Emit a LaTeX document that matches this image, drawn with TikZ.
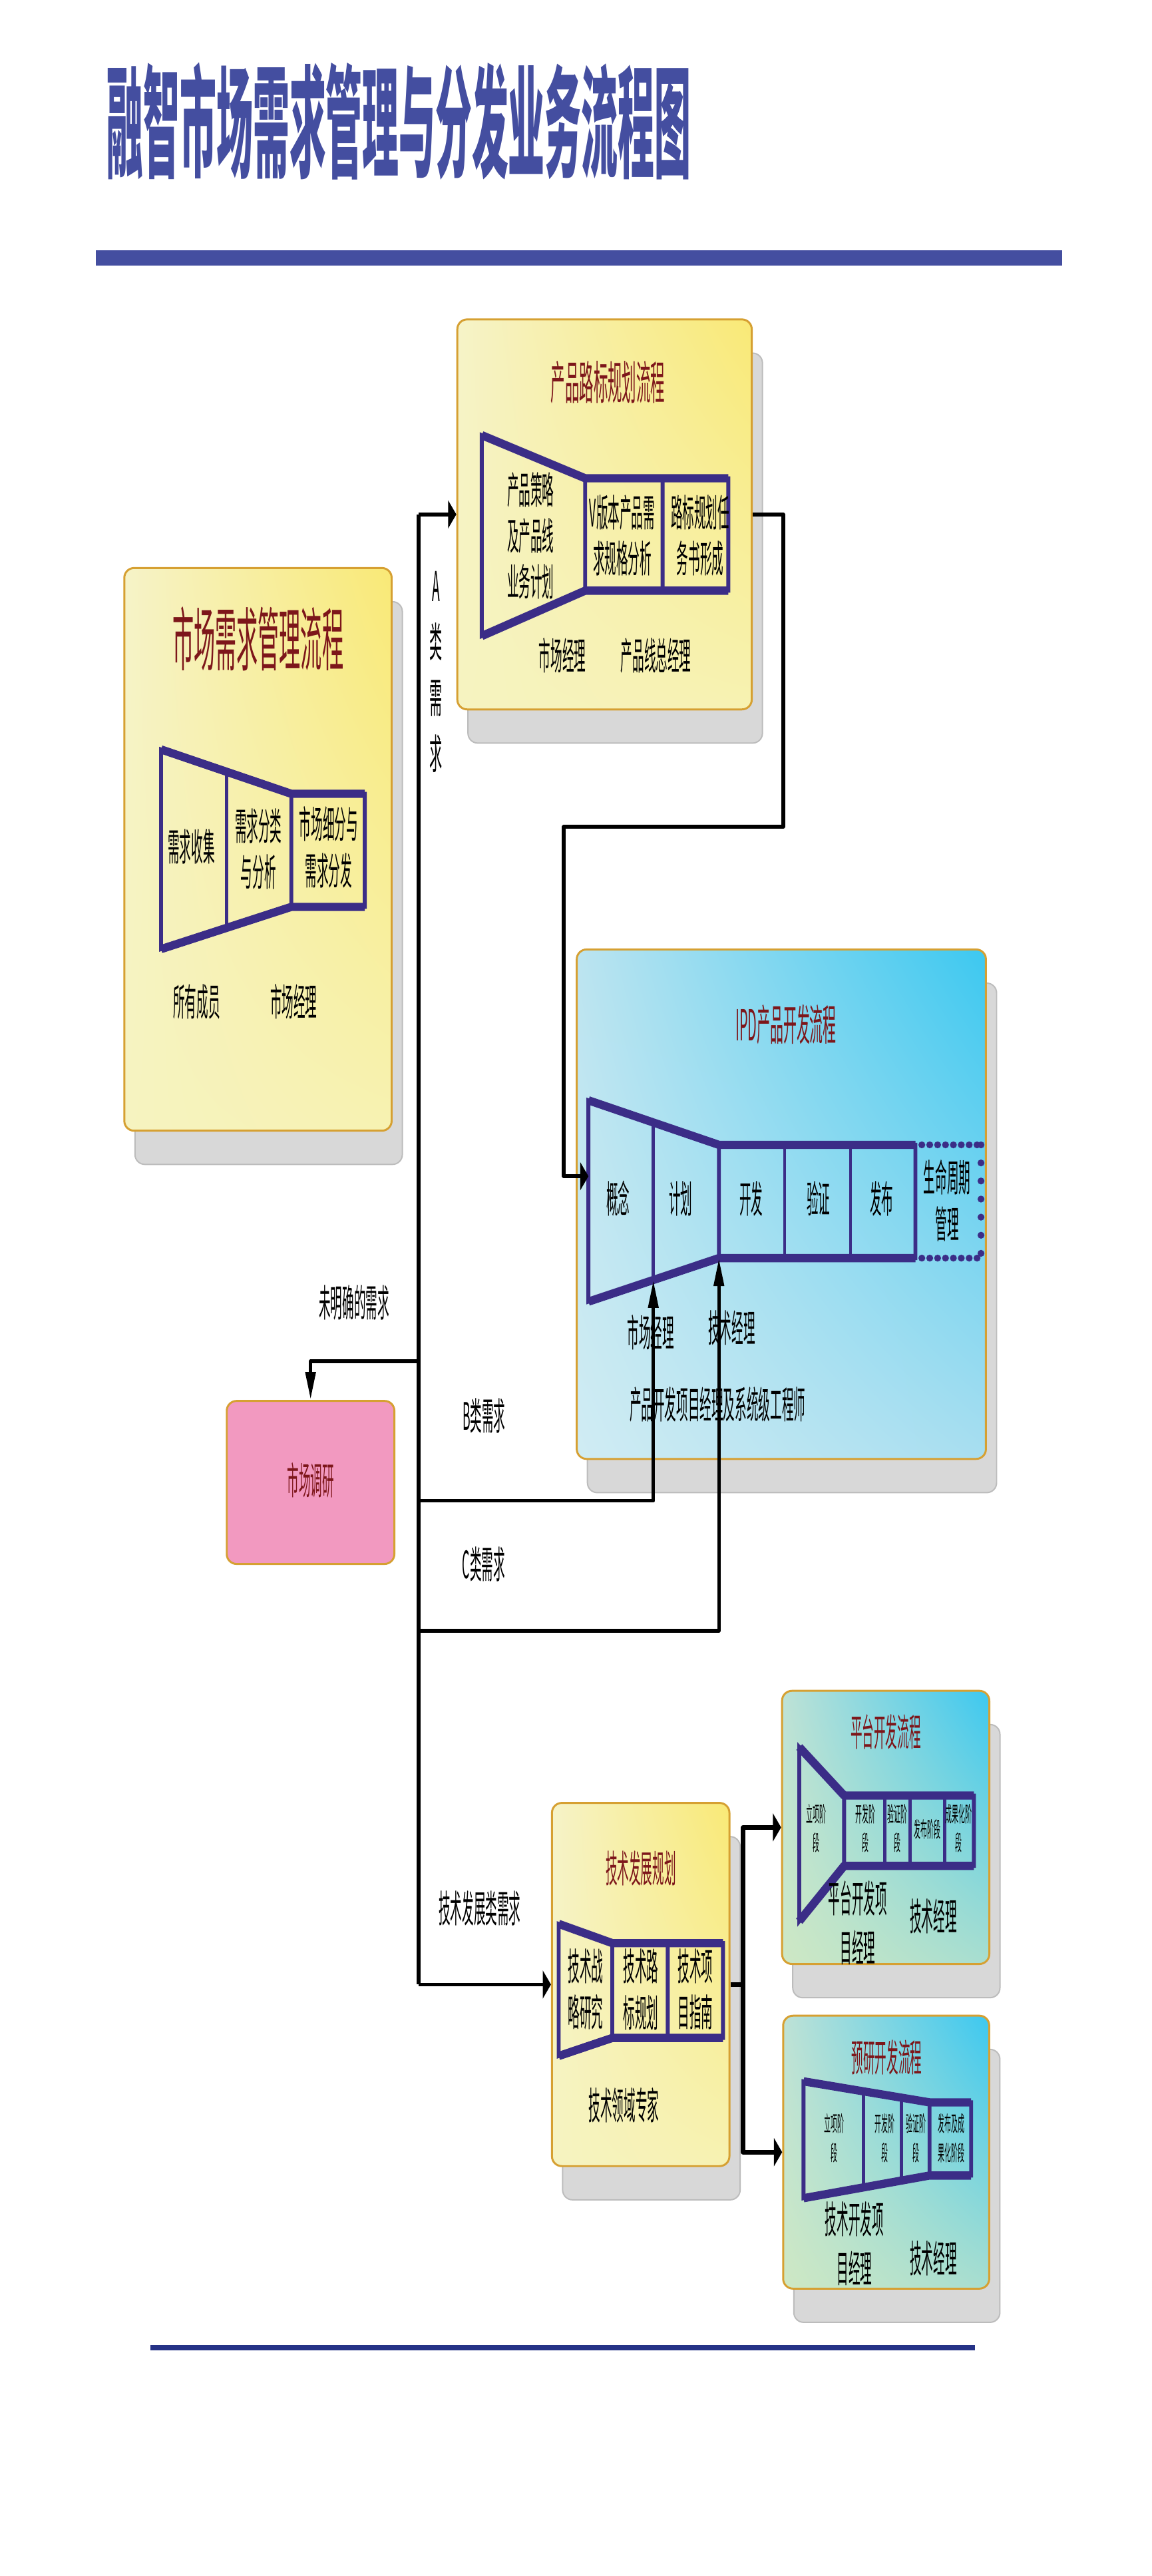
\documentclass[tikz,border=0pt]{standalone}
\usepackage{fontspec}
\newfontfamily\cjk[FakeStretch=0.31]{Noto Sans CJK SC}
\newfontfamily\cjktitle[FakeStretch=0.30]{Noto Sans CJK SC}
\usetikzlibrary{arrows.meta,calc,shadings,shadows,positioning}
\definecolor{ttblue}{RGB}{68,78,160}
\definecolor{navy}{RGB}{37,50,134}
\definecolor{fun}{RGB}{59,45,135}
\definecolor{dred}{RGB}{125,22,26}
\definecolor{bord}{RGB}{214,160,50}
\definecolor{shgray}{RGB}{216,216,216}
\definecolor{shedge}{RGB}{188,188,188}
\definecolor{pinkbox}{RGB}{242,153,192}
\definecolor{yUL}{RGB}{246,243,200}
\definecolor{yUR}{RGB}{249,233,118}
\definecolor{yLL}{RGB}{246,243,192}
\definecolor{yLR}{RGB}{247,242,178}
\definecolor{bUL}{RGB}{188,228,240}
\definecolor{bUR}{RGB}{60,200,240}
\definecolor{bLL}{RGB}{208,236,243}
\definecolor{bLR}{RGB}{168,222,240}
\definecolor{gUL}{RGB}{190,226,214}
\definecolor{gUR}{RGB}{60,200,240}
\definecolor{gLL}{RGB}{206,232,196}
\definecolor{gLR}{RGB}{168,222,208}

\begin{document}
\begin{tikzpicture}[x=1pt,y=-1pt,line join=round,
  panel/.style={draw=bord,line width=1.2pt,rounded corners=6pt,inner sep=0pt,
    drop shadow={shadow xshift=6.5pt,shadow yshift=-20.5pt,fill=shgray,draw=shedge,line width=0.8pt,opacity=1}},
  ypanel/.style={panel,upper left=yUL,upper right=yUR,lower left=yLL,lower right=yLR},
  bpanel/.style={panel,upper left=bUL,upper right=bUR,lower left=bLL,lower right=bLR},
  gpanel/.style={panel,upper left=gUL,upper right=gUR,lower left=gLL,lower right=gLR},
  funnel/.style={draw=fun,line width=2.4pt,line join=miter},
  fedge/.style={draw=fun,line width=5pt},
  fdiv/.style={draw=fun,line width=2pt},
  dotb/.style={draw=fun,line width=4.2pt,line cap=round,dash pattern=on 0pt off 4.8pt},
  conn/.style={draw=black,line width=2.2pt},
  harr/.style={-{Triangle[length=5pt,width=17pt]}},
  varr/.style={-{Triangle[length=17pt,width=6pt]}},
  lab/.style={font=\cjk\fontsize{23}{28}\selectfont,align=center,inner sep=0pt},
  ttl/.style={font=\cjk\fontsize{23}{28}\selectfont,text=dred,inner sep=0pt}]
\useasboundingbox (0,0) rectangle (701,1567.4);
\fill[white] (0,0) rectangle (701,1567.4);

% title and rules
\node[anchor=west,inner sep=0pt,text=ttblue,font=\cjktitle\bfseries\fontsize{74}{80}\selectfont] (title) at (65,73.6) {融智市场需求管理与分发业务流程图};
\fill[ttblue] (58.4,152.3) rectangle (646.5,161.5);
\fill[navy] (91.5,1426.8) rectangle (593.2,1430.2);

% panels
\node[ypanel,minimum width=162.7pt,minimum height=342.4pt] (mkt) at (157,516.8) {};
\node[ypanel,minimum width=179.2pt,minimum height=237.3pt] (road) at (367.9,313) {};
\node[bpanel,minimum width=249pt,minimum height=310pt] (ipd) at (475.5,732.7) {};
\node[ypanel,minimum width=108pt,minimum height=221pt] (tech) at (389.9,1207.5) {};
\node[gpanel,minimum width=126.1pt,minimum height=166.2pt] (plat) at (539,1111.9) {};
\node[gpanel,minimum width=125.4pt,minimum height=166.1pt] (pre) at (539.3,1309.5) {};
\node[draw=bord,fill=pinkbox,line width=1.2pt,rounded corners=6pt,minimum width=102pt,minimum height=99.2pt] (mr) at (189,902) {};

% market funnel
\coordinate (m1) at (98,456); \coordinate (m2) at (177.3,483); \coordinate (m3) at (222,483);
\coordinate (m4) at (222,551.8); \coordinate (m5) at (177.3,551.8); \coordinate (m6) at (98,577.5);
\draw[funnel] (m1)--(m2)--(m3)--(m4)--(m5)--(m6)--cycle (m2)--(m5);
\draw[fedge] (m1)--(m2)--(m3) (m6)--(m5)--(m4);
\draw[fdiv] ($(m1)!0.503!(m2)$)--($(m6)!0.503!(m5)$);

% road map funnel
\coordinate (r1) at (293.2,264.8); \coordinate (r2) at (356.1,291); \coordinate (r3) at (443.2,291);
\coordinate (r4) at (443.2,359.4); \coordinate (r5) at (356.1,359.4); \coordinate (r6) at (293.2,387);
\draw[funnel] (r1)--(r2)--(r3)--(r4)--(r5)--(r6)--cycle (r2)--(r5) (403.2,291)--(403.2,359.4);
\draw[fedge] (r1)--(r2)--(r3) (r6)--(r5)--(r4);

% IPD funnel
\coordinate (i1) at (358.1,669.5); \coordinate (i2) at (437.5,696.6); \coordinate (i3) at (557.1,696.6);
\coordinate (i4) at (557.1,765.5); \coordinate (i5) at (437.5,765.5); \coordinate (i6) at (358.1,792);
\coordinate (iB) at ($(i6)!0.4975!(i5)$);
\draw[funnel] (i1)--(i2)--(i3)--(i4)--(i5)--(i6)--cycle (i2)--(i5);
\draw[fedge] (i1)--(i2)--(i3) (i6)--(i5)--(i4);
\draw[fdiv] ($(i1)!0.4975!(i2)$)--(iB) (477.5,696.6)--(477.5,765.5) (517.6,696.6)--(517.6,765.5);
\draw[dotb] (561,696.6)--(597,696.6) (561,765.5)--(597,765.5);
\draw[dotb,dash pattern=on 0pt off 11pt] (597,696.6)--(597,765.5);

% tech funnel
\coordinate (t1) at (340,1170.6); \coordinate (t2) at (372.6,1182.3); \coordinate (t3) at (440,1182.3);
\coordinate (t4) at (440,1240); \coordinate (t5) at (372.6,1240); \coordinate (t6) at (340,1251);
\draw[funnel] (t1)--(t2)--(t3)--(t4)--(t5)--(t6)--cycle (t2)--(t5) (406.4,1182.3)--(406.4,1240);
\draw[fedge] (t1)--(t2)--(t3) (t6)--(t5)--(t4);

% platform funnel
\coordinate (p1) at (486.4,1063); \coordinate (p2) at (513.7,1092.5); \coordinate (p3) at (592.7,1092.5);
\coordinate (p4) at (592.7,1135.3); \coordinate (p5) at (513.7,1135.3); \coordinate (p6) at (486.4,1169);
\draw[funnel] (p1)--(p2)--(p3)--(p4)--(p5)--(p6)--cycle (p2)--(p5);
\draw[fedge] (p1)--(p2)--(p3) (p6)--(p5)--(p4);
\draw[fdiv] (538.4,1092.5)--(538.4,1135.3) (553.8,1092.5)--(553.8,1135.3) (574.8,1092.5)--(574.8,1135.3);

% pre-research funnel
\coordinate (q1) at (489,1266.4); \coordinate (q2) at (565.7,1279.2); \coordinate (q3) at (591,1279.2);
\coordinate (q4) at (591,1323.7); \coordinate (q5) at (565.7,1323.7); \coordinate (q6) at (489,1337.5);
\draw[funnel] (q1)--(q2)--(q3)--(q4)--(q5)--(q6)--cycle (q2)--(q5);
\draw[fedge] (q1)--(q2)--(q3) (q6)--(q5)--(q4);
\draw[fdiv] ($(q1)!0.476!(q2)$)--($(q6)!0.476!(q5)$) ($(q1)!0.776!(q2)$)--($(q6)!0.776!(q5)$);

% panel titles
\node[ttl,font=\cjk\fontsize{42}{48}\selectfont] (tMkt) at (157,388.6) {市场需求管理流程};
\node[ttl,font=\cjk\fontsize{28}{32}\selectfont] (tRoad) at (370,232.6) {产品路标规划流程};
\node[ttl,font=\cjk\fontsize{26}{30}\selectfont] (tIpd) at (478.3,623.5) {IPD产品开发流程};
\node[ttl] (tTech) at (390,1137) {技术发展规划};
\node[ttl] (tPlat) at (539,1054) {平台开发流程};
\node[ttl] (tPre) at (539.7,1252) {预研开发流程};
\node[ttl] (tMr) at (189,900.7) {市场调研};

% texts
\foreach \n/\x/\y/\t in {1/116.4/515/需求收集, 2/157.3/516.7/{需求分类\\与分析}, 3/200/515.5/{市场细分与\\需求分发},
  4/119.7/609.4/所有成员, 5/178.7/609.4/市场经理,
  6/322.9/326/{产品策略\\及产品线\\业务计划}, 7/378.7/325.8/{V版本产品需\\求规格分析}, 8/426.1/325.8/{路标规划任\\务书形成},
  9/342.3/398.8/市场经理, 10/399.2/398.8/产品线总经理,
  11/376.1/729.4/概念, 12/414.3/729.4/计划, 13/457.2/729.4/开发, 14/498/729.4/验证, 15/536.6/729.4/发布,
  16/576.4/730.5/{生命周期\\管理}, 17/396/810.6/市场经理, 18/445.3/808/技术经理,
  19/215.5/792.7/未明确的需求, 20/294.6/861.5/B类需求, 21/294.4/951.7/C类需求, 22/292/1161/技术发展类需求,
  23/356.4/1210.5/{技术战\\略研究}, 24/390/1210.5/{技术路\\标规划}, 25/423.3/1210.5/{技术项\\目指南},
  26/379.7/1281/技术领域专家, 27/568/1166/技术经理, 28/568/1374/技术经理}
  {\node[lab] (l\n) at (\x,\y) {\t};}
\node[lab,anchor=west] (lEng) at (383,854.5) {产品开发项目经理及系统级工程师};
\node[lab,font=\cjk\fontsize{25}{34}\selectfont] (lA) at (265.3,408.8) {A\\类\\需\\求};
\node[lab,font=\cjk\fontsize{23}{30}\selectfont] (lPlatPm) at (522,1170) {平台开发项\\目经理};
\node[lab,font=\cjk\fontsize{23}{30}\selectfont] (lPrePm) at (520,1365) {技术开发项\\目经理};
\foreach \n/\x/\y/\t in {1/496.8/1112.5/{立项阶\\段}, 2/526.8/1112.5/{开发阶\\段}, 3/546/1112.5/{验证阶\\段},
  4/564.3/1113/发布阶段, 5/583.5/1112.5/{成果化阶\\段},
  6/507.6/1301/{立项阶\\段}, 7/538.3/1301/{开发阶\\段}, 8/557.6/1301/{验证阶\\段}, 9/578.9/1301/{发布及成\\果化阶段}}
  {\node[lab,font=\cjk\fontsize{13}{17.5}\selectfont] (s\n) at (\x,\y) {\t};}

% connectors
\coordinate (trA) at (254.8,313);
\coordinate (trU) at (254.8,828.3);
\coordinate (trB) at (254.8,913.2);
\coordinate (trC) at (254.8,992.2);
\coordinate (trT) at (254.8,1207.5);
\coordinate (rt1) at (476.7,503);
\coordinate (rt2) at (343.1,715.7);
\coordinate (ipdin) at (358.1,715.7);
\coordinate (fk) at (452.3,1207.5);
\draw[conn] (trA)--(trT);
\draw[conn] ($(m3)!0.5!(m4)$)--($(m3)!0.5!(m4)$ -| trA);
\draw[conn,harr] (trA)--(road.west);
\draw[conn,harr] (road.east)-|(rt1)-|(rt2)--(ipdin);
\draw[conn,varr] (trU)-|(mr.north);
\draw[conn,varr] (trB)-|(iB);
\draw[conn,varr] (trC)-|(i5);
\draw[conn,harr] (trT)--(tech.west);
\draw[conn,line width=3pt] (tech.east)--(fk);
\draw[conn,line width=3pt,harr] (fk)|-(plat.west);
\draw[conn,line width=3pt,harr] (fk)|-(pre.west);
\end{tikzpicture}
\end{document}
